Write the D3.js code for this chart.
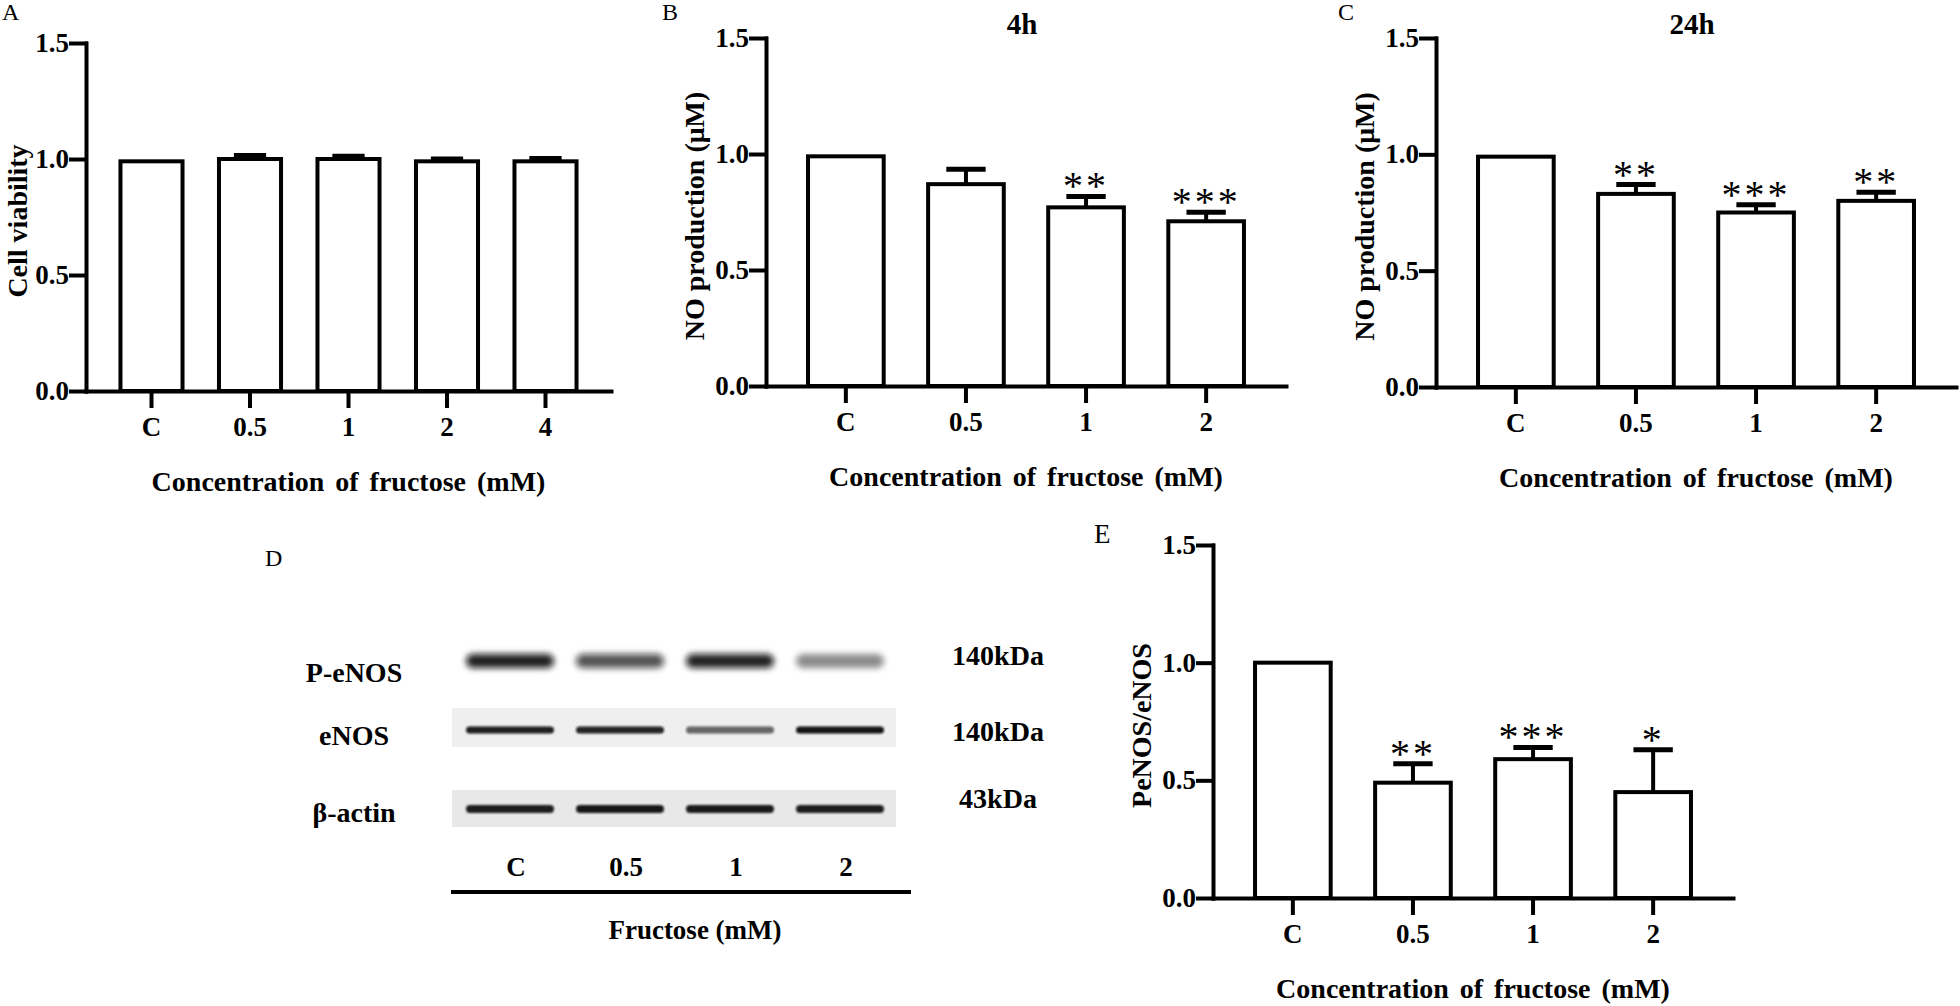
<!DOCTYPE html>
<html>
<head>
<meta charset="utf-8">
<script src="https://cdn.jsdelivr.net/npm/d3@7"></script>
<style>
  body { margin: 0; background: #fff; }
  svg text { font-family: "Liberation Serif", "Times New Roman", serif; fill: #000; }
</style>
</head>
<body>
<script>
// Data
//= ================================
var yTicks = [0, 0.5, 1.0, 1.5];

// A: cell viability
var viabilityCats = ["C", "0.5", "1", "2", "4"];
var viabilityMeans = [0.99, 1.00, 1.00, 0.99, 0.99];
var viabilityErrors = [0, 0.015, 0.012, 0.010, 0.012];

// B / C: NO production
var noCats = ["C", "0.5", "1", "2"];
var no4hMeans = [0.99, 0.87, 0.77, 0.71];
var no4hErrors = [0, 0.064, 0.047, 0.039];
var no4hStars = ["", "", "**", "***"];

var no24hMeans = [0.99, 0.83, 0.75, 0.80];
var no24hErrors = [0, 0.040, 0.033, 0.037];
var no24hStars = ["", "**", "***", "**"];

// E: PeNOS / eNOS
var ratioCats = ["C", "0.5", "1", "2"];
var ratioMeans = [1.00, 0.49, 0.59, 0.45];
var ratioErrors = [0, 0.08, 0.05, 0.18];
var ratioStars = ["", "**", "***", "*"];

// D: western blot
var blotLanes = ["C", "0.5", "1", "2"];
var blotRows = ["P-eNOS", "eNOS", "β-actin"];
var blotWeights = ["140kDa", "140kDa", "43kDa"];
var pEnosDensity = [0.93, 0.72, 0.92, 0.45];
var enosDensity = [0.92, 0.9, 0.62, 0.97];
var actinDensity = [0.93, 0.96, 0.94, 0.93];

// Step 1: svg
//= ================================
var svgWidth = 1960;
var svgHeight = 1006;
var fontSize = 27;

var svg = d3.select("body")
    .append("svg")
    .attr("width", svgWidth)
    .attr("height", svgHeight);

var defs = svg.append("defs");
[["blurThick", 3], ["blurThin", 1.3]].forEach(function (f) {
    defs.append("filter")
        .attr("id", f[0])
        .attr("x", "-20%").attr("y", "-100%")
        .attr("width", "140%").attr("height", "300%")
        .append("feGaussianBlur")
        .attr("stdDeviation", f[1]);
});

/**********************************************/
function panelLetter(text, x, y, size) {
    svg.append("text")
        .attr("x", x)
        .attr("y", y)
        .attr("font-size", size || 24)
        .text(text);
}

/**********************************************/
function drawBarPanel(p) {
    var g = svg.append("g");

    var x = d3.scaleBand()
        .domain(p.cats)
        .range([p.left, p.left + p.width])
        .paddingInner(0.37)
        .paddingOuter(0.35);

    var y = d3.scaleLinear()
        .domain([0, 1.5])
        .range([p.bottom, p.top]);

    var rows = p.cats.map(function (c, i) {
        return { cat: c, mean: p.means[i], err: p.errors[i], star: p.stars ? p.stars[i] : "" };
    });
    var cx = d => x(d.cat) + x.bandwidth() / 2;
    var capW = x.bandwidth() * 0.52;

    // bars
    g.selectAll(".bar")
        .data(rows)
        .enter()
        .append("rect")
        .attr("x", d => x(d.cat))
        .attr("y", d => y(d.mean))
        .attr("width", x.bandwidth())
        .attr("height", d => y(0) - y(d.mean))
        .attr("fill", "#fff")
        .attr("stroke", "#000")
        .attr("stroke-width", 4);

    // error bars (upper only)
    var errRows = rows.filter(d => d.err > 0);
    g.selectAll(".stem")
        .data(errRows)
        .enter()
        .append("line")
        .attr("x1", cx).attr("x2", cx)
        .attr("y1", d => y(d.mean))
        .attr("y2", d => y(d.mean + d.err))
        .attr("stroke", "#000")
        .attr("stroke-width", 4);

    g.selectAll(".cap")
        .data(errRows)
        .enter()
        .append("line")
        .attr("x1", d => cx(d) - capW / 2)
        .attr("x2", d => cx(d) + capW / 2)
        .attr("y1", d => y(d.mean + d.err))
        .attr("y2", d => y(d.mean + d.err))
        .attr("stroke", "#000")
        .attr("stroke-width", 5);

    // significance stars
    g.selectAll(".star")
        .data(rows.filter(d => d.star))
        .enter()
        .append("text")
        .attr("x", cx)
        .attr("y", d => y(d.mean + d.err) + 3)
        .attr("text-anchor", "middle")
        .attr("font-size", 40)
        .attr("letter-spacing", 3)
        .text(d => d.star);

    // axes
    var yAxis = d3.axisLeft(y)
        .tickValues(yTicks)
        .tickFormat(d3.format(".1f"))
        .tickSize(15)
        .tickSizeOuter(0)
        .tickPadding(2);

    var xAxis = d3.axisBottom(x)
        .tickSize(15)
        .tickSizeOuter(0)
        .tickPadding(11);

    var yG = g.append("g")
        .attr("transform", `translate(${p.left}, 0)`)
        .call(yAxis);

    var xG = g.append("g")
        .attr("transform", `translate(0, ${p.bottom})`)
        .call(xAxis);

    [yG, xG].forEach(function (ax) {
        ax.attr("font-family", null).attr("font-size", fontSize).attr("font-weight", "bold");
        ax.selectAll("line, path")
            .attr("stroke", "#000")
            .attr("stroke-width", 4)
            .attr("stroke-linecap", "square");
        ax.selectAll("text").attr("fill", "#000");
    });

    // labels
    var midX = p.left + p.width / 2;
    var yLabelX = Math.max(p.left - 72, 17);
    g.append("text")
        .attr("transform", `translate(${yLabelX}, ${(p.top + p.bottom) / 2 + 4}) rotate(-90)`)
        .attr("text-anchor", "middle")
        .attr("dy", "0.35em")
        .attr("font-size", fontSize + 1)
        .attr("font-weight", "bold")
        .text(p.yLabel);

    g.append("text")
        .attr("x", midX)
        .attr("y", p.bottom + 90)
        .attr("dy", "0.35em")
        .attr("text-anchor", "middle")
        .attr("font-size", fontSize + 1)
        .attr("font-weight", "bold")
        .attr("word-spacing", 4)
        .text("Concentration of fructose (mM)");

    if (p.title) {
        g.append("text")
            .attr("x", midX - 4)
            .attr("y", 34)
            .attr("text-anchor", "middle")
            .attr("font-size", fontSize + 2)
            .attr("font-weight", "bold")
            .text(p.title);
    }
}

/**********************************************/
function drawBlot() {
    var g = svg.append("g");

    var lane = d3.scaleBand()
        .domain(blotLanes)
        .range([455, 895])
        .paddingInner(0.2)
        .paddingOuter(0.1);

    var rowLayout = [
        { cy: 661, h: 14, filter: "blurThick", bg: null, labelY: 672, weightY: 655, density: pEnosDensity },
        { cy: 730, h: 7, filter: "blurThin", bg: [708, 747, "#efefef"], labelY: 735, weightY: 731, density: enosDensity },
        { cy: 809, h: 8, filter: "blurThin", bg: [790, 827, "#e8e8e8"], labelY: 812, weightY: 798, density: actinDensity }
    ];

    rowLayout.forEach(function (r, ri) {
        if (r.bg) {
            g.append("rect")
                .attr("x", 452)
                .attr("y", r.bg[0])
                .attr("width", 444)
                .attr("height", r.bg[1] - r.bg[0])
                .attr("fill", r.bg[2]);
        }

        g.selectAll(".band" + ri)
            .data(blotLanes.map((l, i) => ({ lane: l, v: r.density[i] })))
            .enter()
            .append("rect")
            .attr("x", d => lane(d.lane))
            .attr("y", r.cy - r.h / 2)
            .attr("width", lane.bandwidth())
            .attr("height", r.h)
            .attr("rx", r.h / 2)
            .attr("fill", "#0d0d0d")
            .attr("fill-opacity", d => d.v)
            .attr("filter", `url(#${r.filter})`);

        g.append("text")
            .attr("x", 354)
            .attr("y", r.labelY)
            .attr("dy", "0.35em")
            .attr("text-anchor", "middle")
            .attr("font-size", fontSize + 1)
            .attr("font-weight", "bold")
            .text(blotRows[ri]);

        g.append("text")
            .attr("x", 998)
            .attr("y", r.weightY)
            .attr("dy", "0.35em")
            .attr("text-anchor", "middle")
            .attr("font-size", fontSize + 1)
            .attr("font-weight", "bold")
            .text(blotWeights[ri]);
    });

    g.selectAll(".laneLabel")
        .data(blotLanes)
        .enter()
        .append("text")
        .attr("x", d => lane(d) + lane.bandwidth() / 2 + 6)
        .attr("y", 867)
        .attr("dy", "0.35em")
        .attr("text-anchor", "middle")
        .attr("font-size", fontSize)
        .attr("font-weight", "bold")
        .text(d => d);

    g.append("line")
        .attr("x1", 451).attr("x2", 911)
        .attr("y1", 892).attr("y2", 892)
        .attr("stroke", "#000")
        .attr("stroke-width", 4);

    g.append("text")
        .attr("x", 695)
        .attr("y", 930)
        .attr("dy", "0.35em")
        .attr("text-anchor", "middle")
        .attr("font-size", fontSize)
        .attr("font-weight", "bold")
        .text("Fructose (mM)");
}

/**********************************************/
drawBarPanel({
    left: 86, top: 43, bottom: 391, width: 525,
    cats: viabilityCats, means: viabilityMeans, errors: viabilityErrors,
    yLabel: "Cell viability"
});

drawBarPanel({
    left: 766, top: 38, bottom: 386, width: 520,
    cats: noCats, means: no4hMeans, errors: no4hErrors, stars: no4hStars,
    yLabel: "NO production (μM)", title: "4h"
});

drawBarPanel({
    left: 1436, top: 38, bottom: 387, width: 520,
    cats: noCats, means: no24hMeans, errors: no24hErrors, stars: no24hStars,
    yLabel: "NO production (μM)", title: "24h"
});

drawBarPanel({
    left: 1213, top: 545, bottom: 898, width: 520,
    cats: ratioCats, means: ratioMeans, errors: ratioErrors, stars: ratioStars,
    yLabel: "PeNOS/eNOS"
});

drawBlot();

panelLetter("A", 2, 20);
panelLetter("B", 662, 20);
panelLetter("C", 1338, 20);
panelLetter("D", 265, 566);
panelLetter("E", 1094, 543, 27);
</script>
</body>
</html>
